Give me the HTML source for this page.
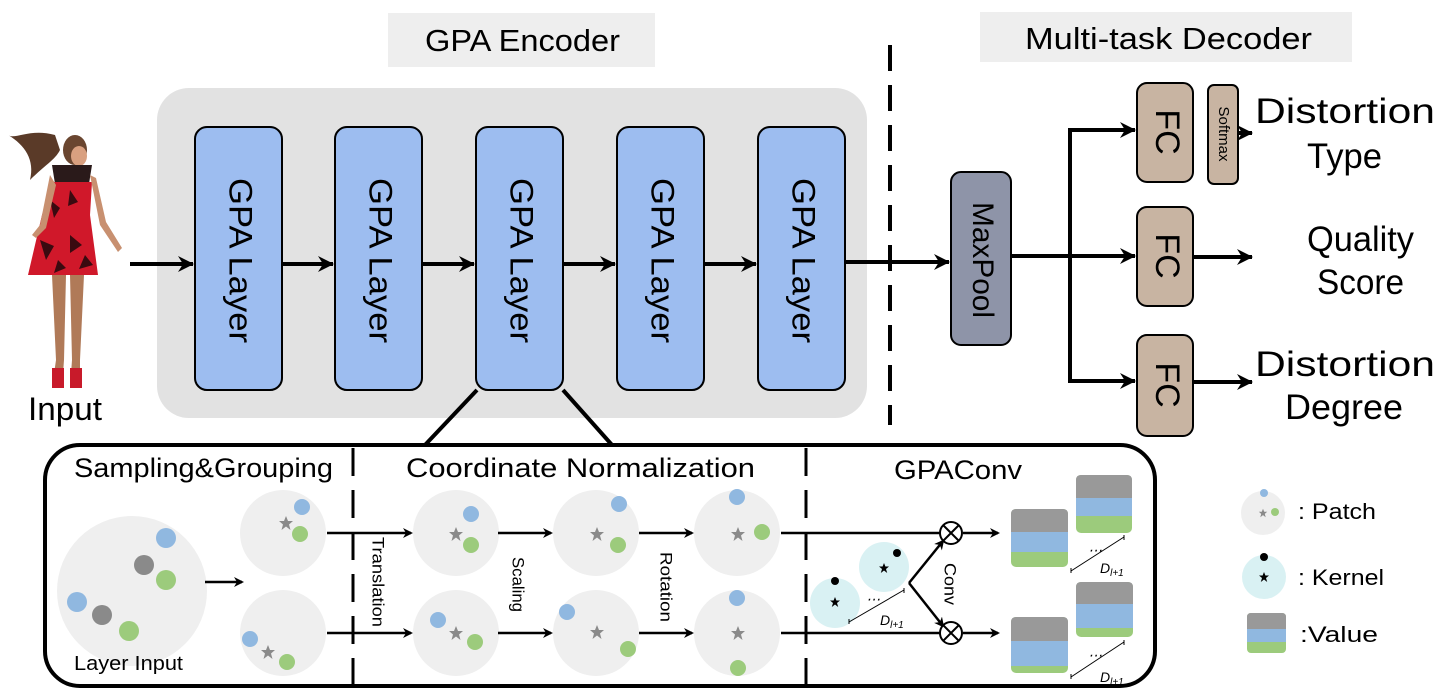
<!DOCTYPE html>
<html><head><meta charset="utf-8"><style>html,body{margin:0;padding:0;background:#fff}svg{display:block}text{font-family:"Liberation Sans",sans-serif}</style></head><body>
<svg width="1438" height="693" viewBox="0 0 1438 693" xmlns="http://www.w3.org/2000/svg">
<defs>
<marker id="ah" markerWidth="10" markerHeight="10" refX="8" refY="5" orient="auto" markerUnits="userSpaceOnUse"><path d="M0,0 L10,5 L0,10 L3,5 Z" fill="#000"/></marker>
<marker id="ahb" markerWidth="18" markerHeight="16" refX="15" refY="8" orient="auto" markerUnits="userSpaceOnUse"><path d="M0,0 L16,8 L0,16 L5,8 Z" fill="#000"/></marker>
<g id="star"><path d="M0,-7 L2,-2 L7,-2 L3,1.5 L4.5,7 L0,3.5 L-4.5,7 L-3,1.5 L-7,-2 L-2,-2 Z" fill="#8a8a8a"/></g>
<g id="kstar"><path d="M0,-5 L1.4,-1.5 L5,-1.5 L2,1 L3.2,5 L0,2.5 L-3.2,5 L-2,1 L-5,-1.5 L-1.4,-1.5 Z" fill="#000"/></g>
</defs>
<rect x="388" y="13" width="267" height="54" fill="#eeeeee"/>
<text x="425" y="51" font-size="31" textLength="195" lengthAdjust="spacingAndGlyphs">GPA Encoder</text>
<rect x="980" y="12" width="372" height="50" fill="#eeeeee"/>
<text x="1025" y="49" font-size="31" textLength="287" lengthAdjust="spacingAndGlyphs">Multi-task Decoder</text>
<line x1="890" y1="45" x2="890" y2="425" stroke="#000" stroke-width="4" stroke-dasharray="26,14"/>
<path d="M55,135 C30,128 15,140 8,135 C25,145 35,160 30,180 C45,165 55,160 60,150 Z" fill="#5a3a28"/>
<ellipse cx="75" cy="150" rx="12" ry="15" fill="#6a4630"/>
<ellipse cx="79" cy="156" rx="8" ry="10" fill="#d9a080"/>
<path d="M52,165 L92,165 L88,190 L56,190 Z" fill="#2a1a1a"/>
<path d="M52,182 L92,182 L90,215 L98,275 L28,275 L42,215 Z" fill="#d0182a"/>
<path d="M50,200 l10,8 l-6,10 z M70,190 l8,12 l-10,4z M40,240 l14,6 l-8,14z M70,235 l12,10 l-12,8z M85,255 l8,10 l-14,4z M58,260 l8,8 l-12,5z" fill="#3a0a10"/>
<path d="M50,175 L40,225 L32,235 L36,238 L46,228 L56,185 Z M90,175 L100,225 L118,252 L122,248 L106,222 L96,178Z" fill="#c89070"/>
<path d="M52,275 L56,360 L52,388 L62,388 L64,360 L66,275 Z M70,275 L72,360 L70,388 L80,388 L80,360 L84,275 Z" fill="#b07a58"/>
<rect x="52" y="368" width="12" height="20" fill="#c81a2a"/><rect x="70" y="368" width="12" height="20" fill="#c81a2a"/>
<text x="28" y="420" font-size="32" textLength="74" lengthAdjust="spacingAndGlyphs">Input</text>
<rect x="157" y="88" width="710" height="330" rx="32" fill="#e2e2e2"/>
<g stroke="#000" stroke-width="2" fill="#9dbdf0">
<rect x="195" y="127" width="87" height="263" rx="12"/>
<rect x="335" y="127" width="87" height="263" rx="12"/>
<rect x="476" y="127" width="87" height="263" rx="12"/>
<rect x="617" y="127" width="87" height="263" rx="12"/>
<rect x="758" y="127" width="87" height="263" rx="12"/>
</g>
<g font-size="32">
<text transform="translate(238,178) rotate(90)" dominant-baseline="middle" textLength="165" lengthAdjust="spacingAndGlyphs">GPA Layer</text>
<text transform="translate(378,178) rotate(90)" dominant-baseline="middle" textLength="165" lengthAdjust="spacingAndGlyphs">GPA Layer</text>
<text transform="translate(519,178) rotate(90)" dominant-baseline="middle" textLength="165" lengthAdjust="spacingAndGlyphs">GPA Layer</text>
<text transform="translate(660,178) rotate(90)" dominant-baseline="middle" textLength="165" lengthAdjust="spacingAndGlyphs">GPA Layer</text>
<text transform="translate(801,178) rotate(90)" dominant-baseline="middle" textLength="165" lengthAdjust="spacingAndGlyphs">GPA Layer</text>
</g>
<g stroke="#000" stroke-width="4" marker-end="url(#ahb)" fill="none">
<line x1="130" y1="264" x2="193" y2="264"/>
<line x1="282" y1="264" x2="333" y2="264"/>
<line x1="422" y1="264" x2="474" y2="264"/>
<line x1="563" y1="264" x2="615" y2="264"/>
<line x1="704" y1="264" x2="756" y2="264"/>
<line x1="845" y1="262" x2="949" y2="262"/>
<line x1="1070" y1="130" x2="1135" y2="130"/>
<line x1="1011" y1="256" x2="1135" y2="256"/>
<line x1="1070" y1="381" x2="1135" y2="381"/>
<line x1="1238" y1="133" x2="1252" y2="133"/>
<line x1="1193" y1="257" x2="1252" y2="257"/>
<line x1="1193" y1="382" x2="1252" y2="382"/>
</g>
<line x1="1070" y1="128" x2="1070" y2="383" stroke="#000" stroke-width="4"/>
<rect x="951" y="172" width="60" height="173" rx="10" fill="#8e94a8" stroke="#000" stroke-width="2"/>
<text transform="translate(981,202) rotate(90)" font-size="30" dominant-baseline="middle" textLength="116" lengthAdjust="spacingAndGlyphs">MaxPool</text>
<g fill="#c8b4a2" stroke="#000" stroke-width="2">
<rect x="1137" y="83" width="56" height="99" rx="10"/>
<rect x="1208" y="85" width="30" height="99" rx="6"/>
<rect x="1137" y="207" width="56" height="99" rx="10"/>
<rect x="1137" y="335" width="56" height="101" rx="10"/>
</g>
<g font-size="34" text-anchor="middle">
<text transform="translate(1165,132) rotate(90)" dominant-baseline="middle">FC</text>
<text transform="translate(1165,256) rotate(90)" dominant-baseline="middle">FC</text>
<text transform="translate(1165,385) rotate(90)" dominant-baseline="middle">FC</text>
</g>
<text transform="translate(1223,134) rotate(90)" font-size="15" text-anchor="middle" dominant-baseline="middle">Softmax</text>
<g font-size="35">
<text x="1255" y="123" textLength="180" lengthAdjust="spacingAndGlyphs">Distortion</text><text x="1307" y="168" textLength="75" lengthAdjust="spacingAndGlyphs">Type</text>
<text x="1307" y="251" textLength="107" lengthAdjust="spacingAndGlyphs">Quality</text><text x="1317" y="294" textLength="87" lengthAdjust="spacingAndGlyphs">Score</text>
<text x="1255" y="376" textLength="180" lengthAdjust="spacingAndGlyphs">Distortion</text><text x="1285" y="419" textLength="118" lengthAdjust="spacingAndGlyphs">Degree</text>
</g>
<line x1="477" y1="390" x2="425" y2="445" stroke="#000" stroke-width="4"/>
<line x1="563" y1="390" x2="612" y2="445" stroke="#000" stroke-width="4"/>
<rect x="45" y="445" width="1110" height="241" rx="35" fill="#fff" stroke="#000" stroke-width="4"/>
<g stroke="#000" stroke-width="3" stroke-dasharray="28,14"><line x1="353" y1="448" x2="353" y2="684"/><line x1="806" y1="448" x2="806" y2="684"/></g>
<g font-size="27">
<text x="74" y="477" textLength="259" lengthAdjust="spacingAndGlyphs">Sampling&amp;Grouping</text>
<text x="406" y="477" textLength="349" lengthAdjust="spacingAndGlyphs">Coordinate Normalization</text>
<text x="894" y="479" textLength="128" lengthAdjust="spacingAndGlyphs">GPAConv</text>
</g>
<g fill="#efefef">
<circle cx="132" cy="591" r="75"/>
<circle cx="283" cy="533" r="43"/><circle cx="283" cy="633" r="43"/>
<circle cx="456" cy="533" r="43"/><circle cx="456" cy="633" r="43"/>
<circle cx="596" cy="533" r="43"/><circle cx="596" cy="633" r="43"/>
<circle cx="737" cy="533" r="43"/><circle cx="737" cy="633" r="43"/>
<circle cx="1263" cy="513" r="22"/>
</g>
<g fill="#90b8e0">
<circle cx="166" cy="538" r="10"/><circle cx="77" cy="602" r="10"/>
<circle cx="302" cy="507" r="8"/><circle cx="250" cy="639" r="8"/>
<circle cx="471" cy="514" r="8"/><circle cx="438" cy="620" r="8"/>
<circle cx="619" cy="504" r="8"/><circle cx="567" cy="612" r="8"/>
<circle cx="737" cy="497" r="8"/><circle cx="737" cy="598" r="8"/>
<circle cx="1264" cy="493" r="4"/>
</g>
<g fill="#9ccb7c">
<circle cx="166" cy="580" r="10"/><circle cx="129" cy="631" r="10"/>
<circle cx="300" cy="534" r="8"/><circle cx="287" cy="662" r="8"/>
<circle cx="471" cy="545" r="8"/><circle cx="475" cy="642" r="8"/>
<circle cx="618" cy="545" r="8"/><circle cx="628" cy="649" r="8"/>
<circle cx="762" cy="532" r="8"/><circle cx="738" cy="668" r="8"/>
<circle cx="1275" cy="512" r="4"/>
</g>
<g fill="#8a8a8a"><circle cx="144" cy="565" r="10"/><circle cx="102" cy="615" r="10"/></g>
<use href="#star" x="286" y="523"/><use href="#star" x="268" y="652"/>
<use href="#star" x="456" y="534"/><use href="#star" x="456" y="633"/>
<use href="#star" x="597" y="534"/><use href="#star" x="597" y="632"/>
<use href="#star" x="738" y="534"/><use href="#star" x="738" y="633"/>
<g transform="translate(1263,513) scale(0.6)"><use href="#star"/></g>
<text x="74" y="670" font-size="20" textLength="109" lengthAdjust="spacingAndGlyphs">Layer Input</text>
<g stroke="#000" stroke-width="2.5" marker-end="url(#ah)" fill="none">
<line x1="205" y1="582" x2="242" y2="582"/>
<line x1="327" y1="533" x2="411" y2="533"/><line x1="327" y1="633" x2="411" y2="633"/>
<line x1="498" y1="533" x2="551" y2="533"/><line x1="498" y1="633" x2="551" y2="633"/>
<line x1="639" y1="533" x2="692" y2="533"/><line x1="639" y1="633" x2="692" y2="633"/>
<line x1="963" y1="533" x2="998" y2="533"/><line x1="963" y1="633" x2="998" y2="633"/>
<line x1="909" y1="583" x2="943" y2="541"/><line x1="909" y1="583" x2="943" y2="626"/>
</g>
<g stroke="#000" stroke-width="2.5"><line x1="781" y1="533" x2="940" y2="533"/><line x1="781" y1="633" x2="940" y2="633"/></g>
<g font-size="17">
<text transform="translate(377,537) rotate(90)" dominant-baseline="middle" textLength="90" lengthAdjust="spacingAndGlyphs">Translation</text>
<text transform="translate(517,557) rotate(90)" dominant-baseline="middle" textLength="55" lengthAdjust="spacingAndGlyphs">Scaling</text>
<text transform="translate(665,552) rotate(90)" dominant-baseline="middle" textLength="70" lengthAdjust="spacingAndGlyphs">Rotation</text>
<text transform="translate(949,563) rotate(90)" dominant-baseline="middle" textLength="42" lengthAdjust="spacingAndGlyphs">Conv</text>
</g>
<g fill="#fff" stroke="#000" stroke-width="2">
<circle cx="951" cy="533" r="11"/><circle cx="951" cy="633" r="11"/>
</g>
<g stroke="#000" stroke-width="2"><path d="M943,525 L959,541 M959,525 L943,541 M943,625 L959,641 M959,625 L943,641"/></g>
<g fill="#d9f1f3">
<circle cx="835" cy="603" r="25"/><circle cx="884" cy="567" r="25"/><circle cx="1264" cy="577" r="22"/>
</g>
<g fill="#000"><circle cx="835" cy="581" r="4"/><circle cx="897" cy="553" r="4"/><circle cx="1264" cy="557" r="4"/></g>
<use href="#kstar" x="835" y="602"/><use href="#kstar" x="884" y="568"/><use href="#kstar" x="1264" y="577"/>
<g stroke="#000" stroke-width="1" fill="none">
<path d="M849,622 L904,590 M849,619 L849,624 M904,588 L904,593"/>
<path d="M1071,571 L1124,537 M1071,568 L1071,573 M1124,535 L1124,540"/>
<path d="M1071,677 L1124,642 M1071,674 L1071,679 M1124,640 L1124,645"/>
</g>
<g font-size="14" font-style="italic" font-family="Liberation Serif">
<text x="866" y="604">⋯</text><text x="1088" y="555">⋯</text><text x="1088" y="660">⋯</text>
<text x="880" y="625">D<tspan font-size="10" dy="3">l+1</tspan></text>
<text x="1100" y="573">D<tspan font-size="10" dy="3">l+1</tspan></text>
<text x="1100" y="682">D<tspan font-size="10" dy="3">l+1</tspan></text>
</g>
<g>
<rect x="1011" y="509" width="57" height="58" rx="5" fill="#9ccb7c"/><path d="M1011,532 H1068 V552 H1011Z" fill="#90b8e0"/><path d="M1016,509 H1063 Q1068,509 1068,514 V532 H1011 V514 Q1011,509 1016,509Z" fill="#999"/>
<rect x="1076" y="475" width="56" height="58" rx="5" fill="#9ccb7c"/><path d="M1076,498 H1132 V516 H1076Z" fill="#90b8e0"/><path d="M1081,475 H1127 Q1132,475 1132,480 V498 H1076 V480 Q1076,475 1081,475Z" fill="#999"/>
<rect x="1011" y="617" width="57" height="56" rx="5" fill="#9ccb7c"/><path d="M1011,641 H1068 V666 H1011Z" fill="#90b8e0"/><path d="M1016,617 H1063 Q1068,617 1068,622 V641 H1011 V622 Q1011,617 1016,617Z" fill="#999"/>
<rect x="1076" y="582" width="57" height="55" rx="5" fill="#9ccb7c"/><path d="M1076,604 H1133 V628 H1076Z" fill="#90b8e0"/><path d="M1081,582 H1128 Q1133,582 1133,587 V604 H1076 V587 Q1076,582 1081,582Z" fill="#999"/>
<rect x="1247" y="613" width="39" height="40" rx="4" fill="#9ccb7c"/><path d="M1247,629 H1286 V642 H1247Z" fill="#90b8e0"/><path d="M1251,613 H1282 Q1286,613 1286,617 V629 H1247 V617 Q1247,613 1251,613Z" fill="#999"/>
</g>
<g font-size="22">
<text x="1298" y="519" textLength="78" lengthAdjust="spacingAndGlyphs">: Patch</text>
<text x="1298" y="585" textLength="86" lengthAdjust="spacingAndGlyphs">: Kernel</text>
<text x="1300" y="642" textLength="78" lengthAdjust="spacingAndGlyphs">:Value</text>
</g>
</svg>
</body></html>
